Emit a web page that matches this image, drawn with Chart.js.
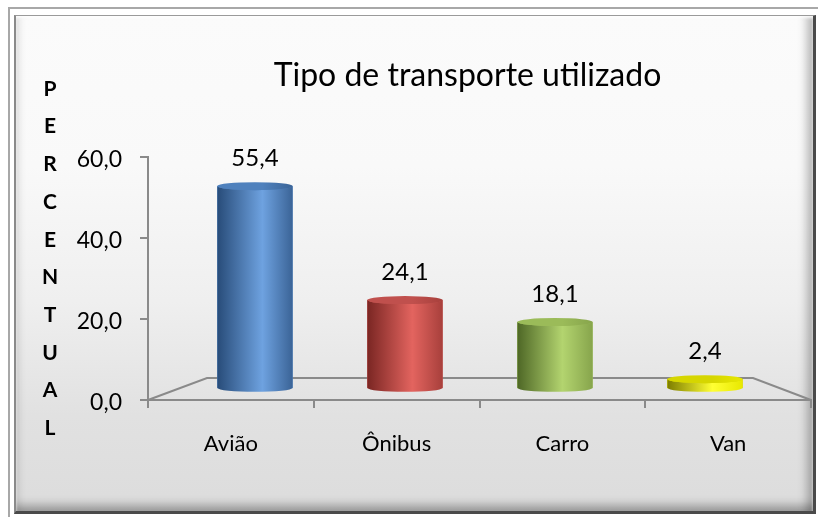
<!DOCTYPE html>
<html><head><meta charset="utf-8">
<script src="https://cdn.jsdelivr.net/npm/chart.js@4"></script>
<style>
html,body{margin:0;padding:0;background:#fff;width:818px;height:517px;overflow:hidden;font-family:Lato}
#outer{position:absolute;left:8px;top:7px;width:812px;height:512px;border-top:2px solid #a8a8a8;border-left:2px solid #a8a8a8;box-sizing:border-box}
#panel{position:absolute;left:14px;top:15px;width:802px;height:499px;box-sizing:border-box;
 border-top:1px solid #9a9a9a;border-left:2px solid #8a8a8a;border-right:3px solid #4a4a4a;border-bottom:3px solid #4a4a4a;
 background:linear-gradient(to bottom,#fbfbfb 0px,#f9f9f9 150px,#efefef 285px,#e1e1e1 400px,#dcdcdc 499px);
 box-shadow: inset 0 2px 3px rgba(255,255,255,0.9), inset -12px 0 10px -6px rgba(0,0,0,0.28), inset 0 -12px 10px -6px rgba(0,0,0,0.3), inset 8px 0 8px -6px rgba(0,0,0,0.15);}
canvas{position:absolute;left:0;top:0}
</style></head>
<body>
<div id="outer"></div>
<div id="panel"></div>
<canvas id="c" width="818" height="517"></canvas>
<script>
const categories = ['Avião', 'Ônibus', 'Carro', 'Van'];
const percentual = [55.4, 24.1, 18.1, 2.4];
const yTicks = [0, 20, 40, 60];
const chartTitle = 'Tipo de transporte utilizado';
const axisTitle = 'PERCENTUAL';

const cylStyles = [
  {dark:'#284c79', light:'#6ea2e0', right:'#3b6497', top:'#4f81bd'},
  {dark:'#7a2623', light:'#e3645f', right:'#a8403c', top:'#c0504d'},
  {dark:'#4e6726', light:'#b3d46f', right:'#87a54c', top:'#9bbb59'},
  {dark:'#7d7d00', light:'#ffff33', right:'#e8e800', top:'#d6d600'}
];
const fmt = v => Number(v).toFixed(1).replace('.', ',');
Chart.defaults.font.family = 'Lato';

const floorPlugin = {
  id: 'floor',
  afterLayout(chart) {
    // widen the y-axis label area so tick labels are not clipped
    const y = chart.scales.y;
    y.left = chart.chartArea.left - 110;
  },
  beforeDatasetsDraw(chart) {
    const {left, right, bottom} = chart.chartArea;
    const ctx = chart.ctx;
    ctx.save();
    ctx.strokeStyle = '#8a8a8a'; ctx.lineWidth = 2;
    ctx.beginPath();
    ctx.moveTo(left, bottom);
    ctx.lineTo(left + 59, bottom - 22);
    ctx.lineTo(right - 58, bottom - 22);
    ctx.lineTo(right, bottom);
    ctx.stroke();
    ctx.restore();
  }
};

const cylinderPlugin = {
  id: 'cyl',
  afterDatasetsDraw(chart) {
    const ctx = chart.ctx;
    const meta = chart.getDatasetMeta(0);
    meta.data.forEach((el, i) => {
      const {x, y, base, width} = el.getProps(['x', 'y', 'base', 'width'], true);
      const w2 = width / 2, ry = 4;
      const st = cylStyles[i % cylStyles.length];
      ctx.save();
      const g = ctx.createLinearGradient(x - w2, 0, x + w2, 0);
      g.addColorStop(0, st.dark); g.addColorStop(0.6, st.light); g.addColorStop(1, st.right);
      ctx.beginPath();
      ctx.moveTo(x - w2, y);
      ctx.lineTo(x - w2, base);
      ctx.ellipse(x, base, w2, ry, 0, Math.PI, 0, true);
      ctx.lineTo(x + w2, y);
      ctx.ellipse(x, y, w2, ry, 0, 0, Math.PI, false);
      ctx.closePath();
      ctx.fillStyle = g; ctx.fill();
      const gt = ctx.createLinearGradient(x - w2, 0, x + w2, 0);
      gt.addColorStop(0, st.top); gt.addColorStop(0.6, st.top); gt.addColorStop(1, st.right);
      ctx.beginPath();
      ctx.ellipse(x, y, w2, ry, 0, 0, Math.PI * 2);
      ctx.fillStyle = gt; ctx.fill();
      ctx.fillStyle = '#000';
      ctx.font = '24px Lato';
      ctx.textAlign = 'center'; ctx.textBaseline = 'middle';
      ctx.fillText(fmt(percentual[i]), x, y - 28);
      ctx.restore();
    });
  }
};

const lettersPlugin = {
  id: 'letters',
  afterDraw(chart) {
    const ctx = chart.ctx;
    const {left, top} = chart.chartArea;
    ctx.save();
    ctx.fillStyle = '#000';
    ctx.font = 'bold 21px Lato';
    ctx.textAlign = 'center'; ctx.textBaseline = 'middle';
    axisTitle.split('').forEach((ch, k) => {
      ctx.fillText(ch, left - 98, top - 68 + k * 37.7);
    });
    ctx.restore();
  }
};

new Chart(document.getElementById('c'), {
  type: 'bar',
  data: {
    labels: categories,
    datasets: [{
      data: percentual.map((v, i) => ({x: i, y: v})),
      xAxisID: 'x2', yAxisID: 'y2',
      backgroundColor: cylStyles.map(s => s.top),
      borderWidth: 0,
      barThickness: 75
    }]
  },
  options: {
    responsive: false, animation: false, devicePixelRatio: 1,
    layout: {padding: {left: 124, right: 7, top: 0, bottom: 0}},
    plugins: {
      legend: {display: false},
      tooltip: {enabled: false},
      title: {display: true, text: chartTitle, color: '#000', font: {size: 32, weight: 'normal'}, padding: {top: 56, bottom: 62.6}}
    },
    scales: {
      x: {
        type: 'category', position: 'bottom', offset: true,
        grid: {display: true, offset: true, drawOnChartArea: false, tickLength: 8, color: '#8a8a8a', lineWidth: 2},
        border: {display: true, color: '#8a8a8a', width: 2},
        ticks: {color: '#000', font: {size: 22}, padding: 23, maxRotation: 0},
        afterFit(s) { s.height = 117; }
      },
      y: {
        type: 'linear', position: 'left',
        min: yTicks[0], max: yTicks[yTicks.length - 1],
        ticks: {stepSize: yTicks[1] - yTicks[0], color: '#000', font: {size: 23}, padding: 18, labelOffset: 3, callback: v => fmt(v)},
        grid: {drawOnChartArea: false, tickLength: 8, color: '#8a8a8a', lineWidth: 2},
        border: {color: '#8a8a8a', width: 2},
        afterFit(s) { s.width = 24; }
      },
      x2: {type: 'linear', display: false, min: -0.713, max: 3.707, offset: false},
      y2: {type: 'linear', display: false, min: -3.33, max: 63.4}
    }
  },
  plugins: [floorPlugin, cylinderPlugin, lettersPlugin]
});
</script>
</body></html>
